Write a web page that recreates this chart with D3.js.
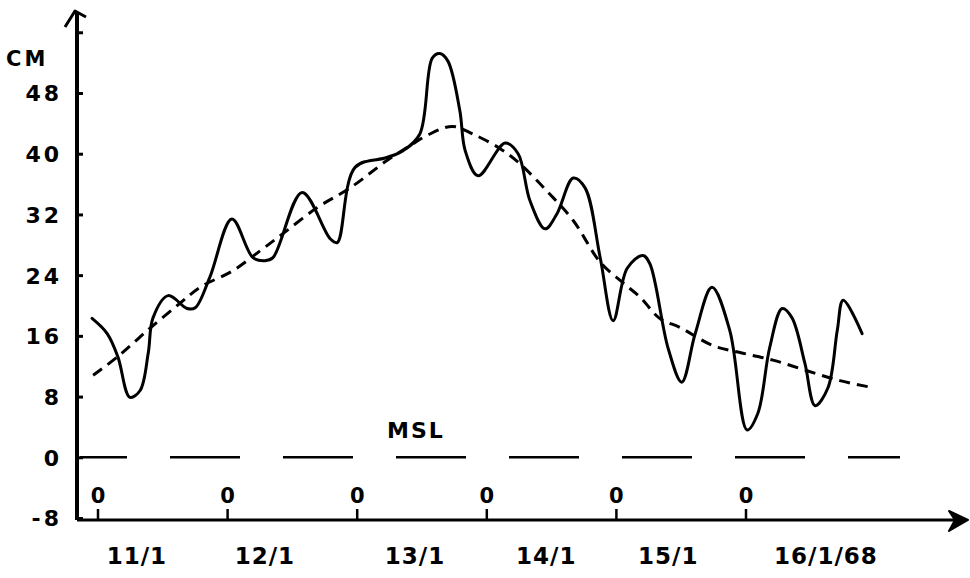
<!DOCTYPE html>
<html lang="en">
<head>
  <meta charset="utf-8">
  <script src="https://d3js.org/d3.v7.min.js"></script>
  <title>Sea level, 11-16/1/68</title>
  <style>
    body { margin: 0; background: #fff; }
    text { font-family: "DejaVu Sans", sans-serif; font-weight: bold; fill: #000; }
  </style>
</head>
<body>
<div id="chart"></div>
<script>

  // hours counted from the first "0" mark (11/1)
  const solidHours = [-1.1, 1.7, 3.7, 5.9, 7.8, 9.3, 10.2, 13.0, 16.5, 18.0, 20.7, 24.8, 28.7, 30.9, 32.4,
    37.8, 43.0, 44.3, 47.6, 53.5, 56.5, 59.6, 61.9, 63.3, 64.8, 67.0, 68.0, 70.4, 75.4, 77.8, 80.0,
    82.8, 85.0, 88.0, 90.2, 93.0, 95.4, 98.0, 100.9, 102.2, 105.6, 108.1, 110.6, 113.7, 117.0, 120.2,
    122.2, 124.4, 126.7, 128.5, 130.9, 132.8, 135.2, 136.9, 138.0, 141.5];
  const solidCm = [18.3, 16.3, 13.2, 7.9, 8.8, 13.7, 18.4, 21.3, 19.6, 19.7, 23.7, 31.4, 26.3, 25.9, 26.3,
    34.9, 28.8, 28.3, 38.2, 39.5, 40.4, 42.6, 52.6, 53.2, 52.2, 45.7, 40.4, 37.1, 41.4, 40.0, 33.8,
    30.1, 32.1, 36.8, 35.5, 26.3, 18.0, 24.9, 26.6, 25.5, 14.3, 9.9, 16.3, 22.4, 16.7, 3.6,
    5.8, 14.5, 19.6, 18.4, 12.4, 6.8, 9.2, 16.7, 20.7, 16.3];

  const dashHours = [-0.9, 3.9, 9.6, 15.2, 18.9, 25.0, 30.0, 34.3, 40.6, 46.7, 53.5, 58.3, 60.9, 65.6,
    69.4, 74.4, 78.1, 83.1, 88.0, 93.0, 97.2, 100.4, 104.0, 107.8, 113.9, 118.9, 125.0, 131.3, 137.4, 143.3];
  const dashCm = [10.8, 13.4, 17.0, 20.3, 22.4, 24.6, 27.2, 29.5, 32.9, 35.5, 39.1, 41.3, 42.4, 43.6,
    42.6, 40.7, 38.7, 35.1, 31.2, 25.7, 23.0, 21.1, 18.3, 17.1, 14.7, 13.8, 12.8, 11.4, 10.1, 9.2];

  const dayHours = [0, 24, 48, 72, 96, 120];
  const dayLabels = ["11/1", "12/1", "13/1", "14/1", "15/1", "16/1/68"];
  const dayLabelHours = [7.2, 30.9, 58.7, 83.0, 105.6, 134.8];

  const yTicks = [-8, 0, 8, 16, 24, 32, 40, 48, 56];
  const yTickLabels = ["-8", "0", "8", "16", "24", "32", "40", "48", ""];

  const width = 970, height = 578;

  const svg = d3.select("#chart")
    .append("svg")
    .attr("width", width)
    .attr("height", height);

  const x = d3.scaleLinear().domain([0, 120]).range([98, 746]);
  const y = d3.scaleLinear().domain([-8, 48]).range([518, 93]);

  const axisX = 77;
  const baseY = y(-8) + 2;

  // Y axis with ticks pointing inward
  const yAxis = svg.append("g")
    .attr("transform", `translate(${axisX},0)`)
    .call(d3.axisLeft(y)
      .tickValues(yTicks)
      .tickSizeInner(-6)
      .tickSizeOuter(0)
      .tickPadding(15)
      .tickFormat((d, i) => yTickLabels[i]));
  yAxis.select(".domain").remove();
  yAxis.selectAll(".tick line").attr("stroke", "#000").attr("stroke-width", 3);
  yAxis.selectAll(".tick text")
    .style("font-size", "22px")
    .style("letter-spacing", "3px")
    .attr("dy", "0.36em");

  svg.append("text")
    .attr("x", 6).attr("y", 66)
    .style("font-size", "21px")
    .style("letter-spacing", "3px")
    .text("CM");

  // axis lines with arrow heads
  svg.append("line")
    .attr("x1", axisX).attr("x2", axisX)
    .attr("y1", baseY).attr("y2", 12)
    .attr("stroke", "#000").attr("stroke-width", 4);
  svg.append("path")
    .attr("d", "M65,27 L75,11 L86,17")
    .attr("fill", "none").attr("stroke", "#000").attr("stroke-width", 3)
    .attr("stroke-linejoin", "round");

  svg.append("line")
    .attr("x1", axisX).attr("x2", 962)
    .attr("y1", baseY).attr("y2", baseY)
    .attr("stroke", "#000").attr("stroke-width", 3);
  svg.append("path")
    .attr("d", `M949,${baseY - 9} L968,${baseY} L949,${baseY + 11} L955,${baseY} Z`)
    .attr("fill", "#000").attr("stroke", "#000").attr("stroke-width", 2)
    .attr("stroke-linejoin", "round");

  // day marks: small tick with a "0" above it
  svg.selectAll(".daytick")
    .data(dayHours)
    .join("line")
    .attr("x1", d => x(d)).attr("x2", d => x(d))
    .attr("y1", baseY).attr("y2", baseY - 11)
    .attr("stroke", "#000").attr("stroke-width", 2.5);
  svg.selectAll(".dayzero")
    .data(dayHours)
    .join("text")
    .attr("x", d => x(d)).attr("y", baseY - 17)
    .attr("text-anchor", "middle")
    .style("font-size", "21px")
    .text("0");

  svg.selectAll(".daylabel")
    .data(dayLabels)
    .join("text")
    .attr("x", (d, i) => x(dayLabelHours[i]))
    .attr("y", 564)
    .attr("text-anchor", "middle")
    .style("font-size", "23px")
    .style("letter-spacing", "1px")
    .text(d => d);

  // mean sea level
  svg.append("line")
    .attr("x1", 80).attr("x2", 900)
    .attr("y1", y(0)).attr("y2", y(0))
    .attr("stroke", "#000").attr("stroke-width", 2.5)
    .attr("stroke-dasharray", "70,43")
    .attr("stroke-dashoffset", 23);
  svg.append("text")
    .attr("x", 416).attr("y", 438)
    .attr("text-anchor", "middle")
    .style("font-size", "22px")
    .style("letter-spacing", "2px")
    .text("MSL");

  // smoothed curve (dashed)
  const dashed = dashHours.map((h, i) => [h, dashCm[i]]);
  svg.append("path")
    .datum(dashed)
    .attr("fill", "none")
    .attr("stroke", "#000")
    .attr("stroke-width", 3)
    .attr("stroke-dasharray", "11,7")
    .attr("d", d3.line()
      .x(d => x(d[0]))
      .y(d => y(d[1]))
      .curve(d3.curveCatmullRom.alpha(0.5)));

  // observed level (solid)
  const solid = solidHours.map((h, i) => [h, solidCm[i]]);
  svg.append("path")
    .datum(solid)
    .attr("fill", "none")
    .attr("stroke", "#000")
    .attr("stroke-width", 3)
    .attr("stroke-linejoin", "round")
    .attr("stroke-linecap", "round")
    .attr("d", d3.line()
      .x(d => x(d[0]))
      .y(d => y(d[1]))
      .curve(d3.curveCatmullRom.alpha(0.5)));

</script>
</body>
</html>
